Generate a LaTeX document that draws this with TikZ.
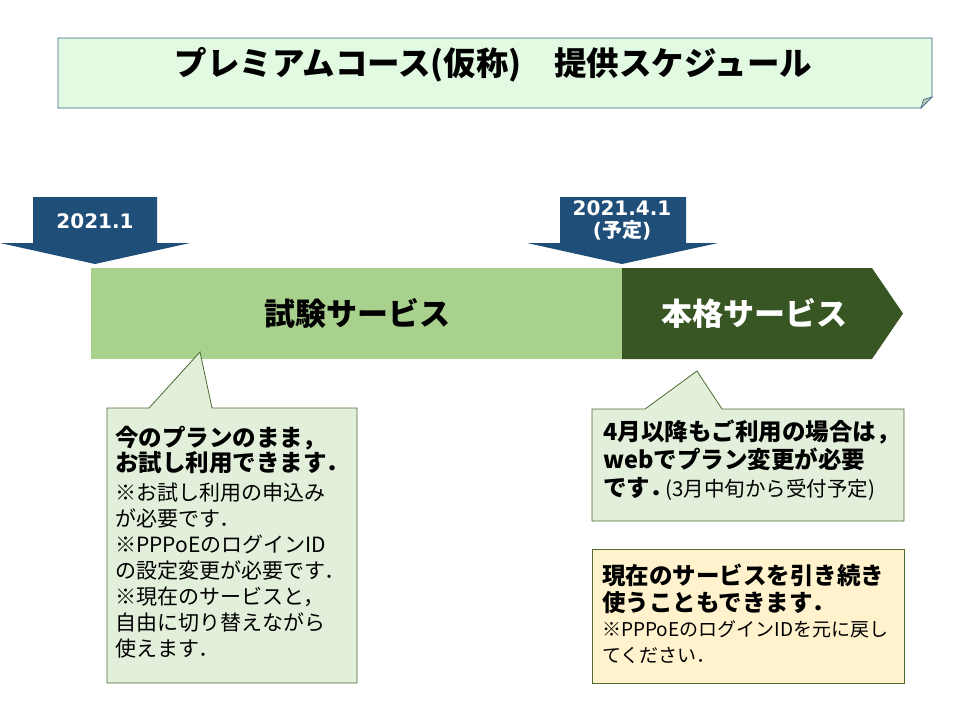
\documentclass[tikz,border=0pt]{standalone}
\usepackage{fontspec}
\setmainfont{Noto Sans CJK JP}
\newfontfamily\latf{DejaVu Sans}
\definecolor{titlefill}{HTML}{E2F9E2}
\definecolor{titleline}{HTML}{3A5F8A}
\definecolor{titlefold}{HTML}{B5C9B5}
\definecolor{arrowblue}{HTML}{1F4E79}
\definecolor{lightbar}{HTML}{A9D18E}
\definecolor{darkbar}{HTML}{375623}
\definecolor{cgfill}{HTML}{E2EFDA}
\definecolor{cgline}{HTML}{4E6B30}
\definecolor{cyfill}{HTML}{FFF2CC}
\tikzset{
  txt/.style={anchor=base west, inner sep=0pt},
  boldtxt/.style={txt, font=\bfseries\fontsize{23.5}{28}\selectfont},
  normtxt/.style={txt, font=\fontsize{21}{26}\selectfont},
  smalltxt/.style={txt, font=\fontsize{19}{24}\selectfont},
  datetxt/.style={anchor=base, inner sep=0pt, text=white, font=\latf\bfseries\fontsize{20}{24}\selectfont},
  bartxt/.style={anchor=base, inner sep=0pt, font=\bfseries\fontsize{31}{36}\selectfont},
  callout/.style={draw=cgline, line width=0.8pt, fill=cgfill}
}
\begin{document}
\begin{tikzpicture}[x=1pt,y=-1pt]
\useasboundingbox (0,0) rectangle (960,720);
% title
\draw[draw=titleline, line width=0.8pt, fill=titlefill] (58,38) -- (932,38) -- (932,97) -- (921,108) -- (58,108) -- cycle;
\draw[draw=titleline, line width=0.6pt, fill=titlefold] (921,108) -- (923.5,99.5) -- (932,97) -- cycle;
\node[anchor=base, inner sep=0pt, font=\bfseries\fontsize{32.5}{38}\selectfont] (title) at (493.5,75) {プレミアムコース(仮称)　提供スケジュール};
% date arrows
\fill[arrowblue] (33,197) -- (157,197) -- (157,243) -- (190,243) -- (95,264) -- (0,243) -- (33,243) -- cycle;
\node[datetxt] (d1) at (95,228) {2021.1};
\fill[arrowblue] (560,197) -- (686,197) -- (686,243) -- (718,243) -- (622,264) -- (527,243) -- (560,243) -- cycle;
\node[datetxt] (d2) at (622,215) {2021.4.1};
\node[datetxt] (d3) at (622,237) {({\rmfamily 予定})};
% bars
\fill[lightbar] (91,268) rectangle (622,359);
\fill[darkbar] (622,268) -- (872,268) -- (903,313.5) -- (872,359) -- (622,359) -- cycle;
\node[bartxt] (b1) at (357,325) {試験サービス};
\node[bartxt, text=white] (b2) at (754,325) {本格サービス};
% callout 1
\draw[callout] (107,408) -- (149,408) -- (200,352) -- (212,408) -- (357,408) -- (357,683) -- (107,683) -- cycle;
\node[boldtxt] (c1a) at (115,446) {今のプランのまま，};
\node[boldtxt] (c1b) at (115,471) {お試し利用できます．};
\node[normtxt] (c1c) at (115,500) {※お試し利用の申込み};
\node[normtxt] (c1d) at (115,526) {が必要です．};
\node[normtxt] (c1e) at (115,552) {※PPPoEのログインID};
\node[normtxt] (c1f) at (115,578) {の設定変更が必要です．};
\node[normtxt] (c1g) at (115,604) {※現在のサービスと，};
\node[normtxt] (c1h) at (115,630) {自由に切り替えながら};
\node[normtxt] (c1i) at (115,656) {使えます．};
% callout 2
\draw[callout] (592,409) -- (645,409) -- (697,371) -- (722,409) -- (904,409) -- (904,521) -- (592,521) -- cycle;
\node[boldtxt] (c2a) at (603,440) {4月以降もご利用の場合は，};
\node[boldtxt] (c2b) at (603,468) {webでプラン変更が必要};
\node[boldtxt] (c2c) at (603,496) {です．};
\node[txt, font=\fontsize{20.5}{25}\selectfont] (c2d) at (665,496) {(3月中旬から受付予定)};
% box 3
\draw[draw=cgline, line width=0.8pt, fill=cyfill] (592,549) rectangle (904,683);
\node[boldtxt] (c3a) at (602,584) {現在のサービスを引き続き};
\node[boldtxt] (c3b) at (602,611) {使うこともできます．};
\node[smalltxt] (c3c) at (602,636) {※PPPoEのログインIDを元に戻し};
\node[smalltxt] (c3d) at (602,662) {てください．};
\end{tikzpicture}
\end{document}
